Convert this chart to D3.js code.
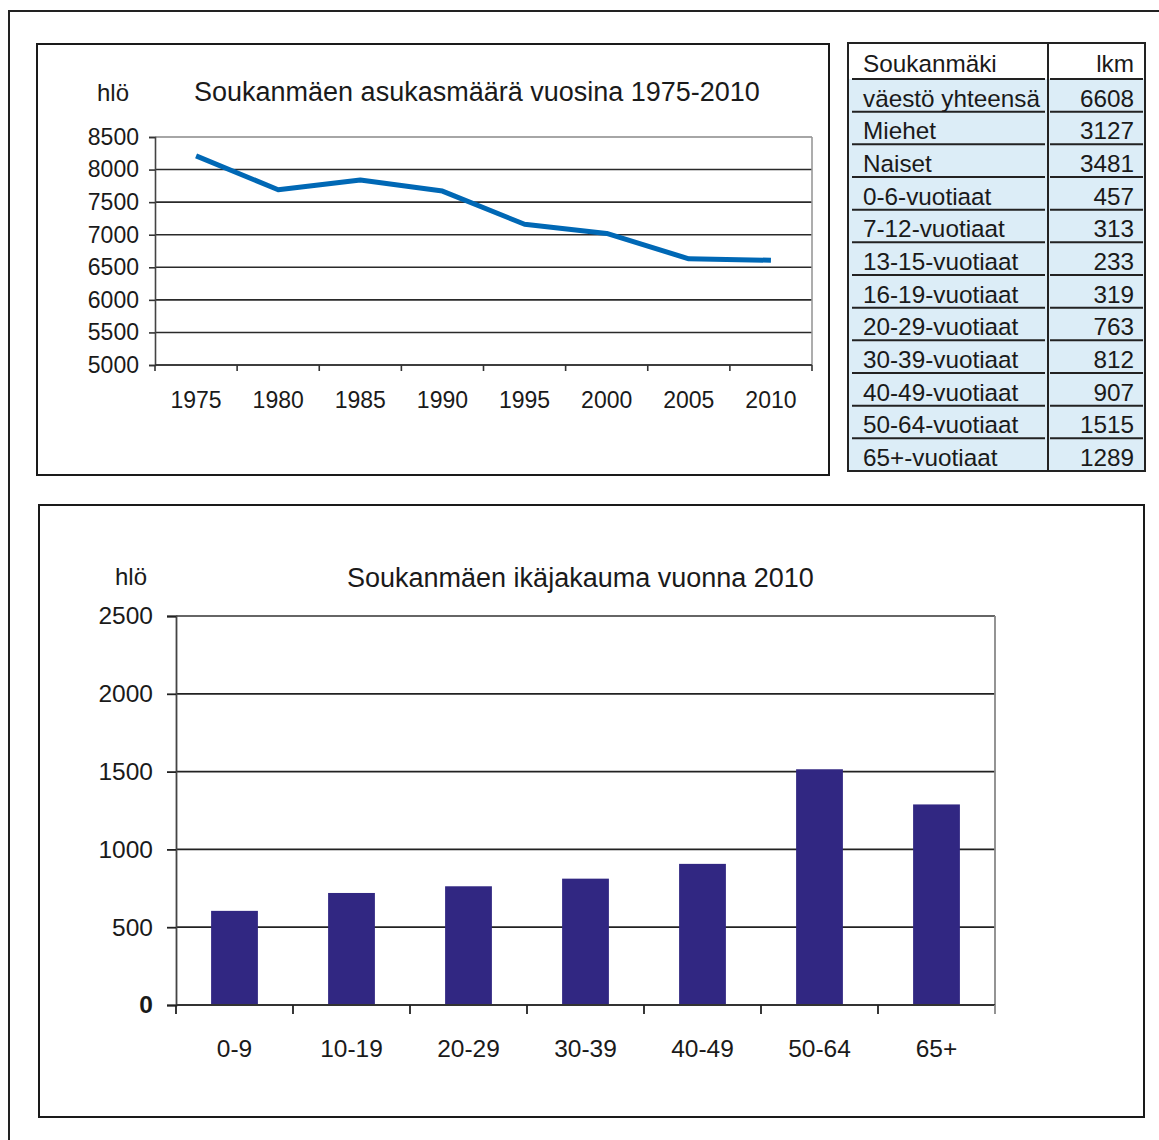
<!DOCTYPE html>
<html><head><meta charset="utf-8">
<script src="https://cdn.jsdelivr.net/npm/d3@7"></script>
<style>
html,body{margin:0;padding:0;background:#fff;}
text{font-family:"Liberation Sans",Arial,Helvetica,sans-serif;fill:#1a1a1a;}
</style></head>
<body>
<svg id="c" width="1159" height="1140"></svg>
<script>
// ---- data ----
const years = ["1975","1980","1985","1990","1995","2000","2005","2010"];
const population = [8210, 7690, 7840, 7670, 7160, 7020, 6630, 6608];
const lineTicks = [5000,5500,6000,6500,7000,7500,8000,8500];

const tableHeader = ["Soukanmäki","lkm"];
const tableLabels = ["väestö yhteensä","Miehet","Naiset","0-6-vuotiaat","7-12-vuotiaat","13-15-vuotiaat","16-19-vuotiaat","20-29-vuotiaat","30-39-vuotiaat","40-49-vuotiaat","50-64-vuotiaat","65+-vuotiaat"];
const tableValues = [6608,3127,3481,457,313,233,319,763,812,907,1515,1289];

const ageGroups = ["0-9","10-19","20-29","30-39","40-49","50-64","65+"];
const ageCounts = [605, 720, 763, 812, 907, 1515, 1289];
const barTicks = [0,500,1000,1500,2000,2500];

const svg = d3.select("#c");

// outer frame
svg.append("rect").attr("x",9).attr("y",11).attr("width",1200).attr("height",1200)
  .attr("fill","none").attr("stroke","#222").attr("stroke-width",2);

// ================= Line chart =================
svg.append("rect").attr("x",37).attr("y",44).attr("width",792).attr("height",431)
  .attr("fill","#fff").attr("stroke","#1a1a1a").attr("stroke-width",2);

const L = {x0:155, x1:812, y0:137, y1:365};
const lx = d3.scaleBand().domain(years).range([L.x0,L.x1]);
const ly = d3.scaleLinear().domain([5000,8500]).range([L.y1,L.y0]);

const g1 = svg.append("g");
g1.selectAll("line.grid").data(lineTicks).join("line")
  .attr("x1",L.x0).attr("x2",L.x1).attr("y1",d=>ly(d)).attr("y2",d=>ly(d))
  .attr("stroke",d=>d===8500?"#888":"#2a2a2a").attr("stroke-width",1.6);
g1.append("line").attr("x1",L.x1).attr("x2",L.x1).attr("y1",L.y0).attr("y2",L.y1)
  .attr("stroke","#999").attr("stroke-width",1.6);
const yAx1 = g1.append("g").attr("transform",`translate(${L.x0},0)`)
  .call(d3.axisLeft(ly).tickValues(lineTicks).tickSize(6).tickPadding(10).tickFormat(d3.format("d")));
yAx1.select(".domain").attr("stroke","#444").attr("stroke-width",1.6);
yAx1.selectAll(".tick line").attr("stroke","#333").attr("stroke-width",1.6);
yAx1.selectAll("text").style("font-size","23px").attr("fill","#1a1a1a");
const xAx1 = g1.append("g").attr("transform",`translate(0,${L.y1})`)
  .call(d3.axisBottom(lx).tickSize(0).tickPadding(27));
xAx1.select(".domain").remove();
xAx1.selectAll("text").style("font-size","23px").attr("fill","#1a1a1a");
g1.append("line").attr("x1",L.x0).attr("x2",L.x1).attr("y1",L.y1).attr("y2",L.y1)
  .attr("stroke","#333").attr("stroke-width",1.6);
const bounds1 = years.map(d=>lx(d)).concat([L.x1]);
g1.selectAll("line.xt").data(bounds1).join("line")
  .attr("x1",d=>d).attr("x2",d=>d).attr("y1",L.y1).attr("y2",L.y1+6)
  .attr("stroke","#333").attr("stroke-width",1.6);
g1.append("path").datum(population)
  .attr("d", d3.line().x((d,i)=>lx(years[i])+lx.bandwidth()/2).y(d=>ly(d)))
  .attr("fill","none").attr("stroke","#0068b5").attr("stroke-width",5).attr("stroke-linejoin","round");
svg.append("text").attr("x",97).attr("y",101).style("font-size","24px").text("hlö");
svg.append("text").attr("x",194).attr("y",101).style("font-size","27px").text("Soukanmäen asukasmäärä vuosina 1975-2010");

// ================= Table =================
const T = {x0:848, x1:1145, y0:43, y1:471, colX:1048, headH:36};
const rowH = (T.y1 - T.y0 - T.headH)/tableLabels.length;
const gt = svg.append("g");
gt.append("rect").attr("x",T.x0).attr("y",T.y0).attr("width",T.x1-T.x0).attr("height",T.y1-T.y0)
  .attr("fill","#fff");
gt.append("rect").attr("x",T.x0).attr("y",T.y0+T.headH).attr("width",T.x1-T.x0).attr("height",T.y1-T.y0-T.headH)
  .attr("fill","#dcedf7");
gt.append("text").attr("x",863).attr("y",T.y0+T.headH-7).style("font-size","24.3px").text(tableHeader[0]);
gt.append("text").attr("x",1134).attr("y",T.y0+T.headH-7).attr("text-anchor","end").style("font-size","24.3px").text(tableHeader[1]);
const lineYs = d3.range(tableLabels.length).map(i=>T.y0+T.headH+i*rowH);
gt.selectAll("line.rl").data(lineYs).join("line")
  .attr("x1",852).attr("x2",1045).attr("y1",d=>d).attr("y2",d=>d).attr("stroke","#222").attr("stroke-width",2);
gt.selectAll("line.rr").data(lineYs).join("line")
  .attr("x1",1050).attr("x2",1143).attr("y1",d=>d).attr("y2",d=>d).attr("stroke","#222").attr("stroke-width",2);
gt.selectAll("text.lab").data(tableLabels).join("text")
  .attr("x",863).attr("y",(d,i)=>T.y0+T.headH+(i+1)*rowH-5).style("font-size","24.3px").text(d=>d);
gt.selectAll("text.val").data(tableValues).join("text")
  .attr("x",1134).attr("y",(d,i)=>T.y0+T.headH+(i+1)*rowH-5).attr("text-anchor","end")
  .style("font-size","24.3px").text(d=>d);
gt.append("line").attr("x1",T.colX).attr("x2",T.colX).attr("y1",T.y0).attr("y2",T.y1).attr("stroke","#222").attr("stroke-width",2);
gt.append("rect").attr("x",T.x0).attr("y",T.y0).attr("width",T.x1-T.x0).attr("height",T.y1-T.y0)
  .attr("fill","none").attr("stroke","#222").attr("stroke-width",2);

// ================= Bar chart =================
svg.append("rect").attr("x",39).attr("y",505).attr("width",1105).attr("height",612)
  .attr("fill","#fff").attr("stroke","#1a1a1a").attr("stroke-width",2);

const B = {x0:176, x1:995, y0:616, y1:1005};
const bx = d3.scaleBand().domain(ageGroups).range([B.x0,B.x1]);
const by = d3.scaleLinear().domain([0,2500]).range([B.y1,B.y0]);
const g2 = svg.append("g");
g2.selectAll("line.grid").data(barTicks.filter(d=>d>0)).join("line")
  .attr("x1",B.x0).attr("x2",B.x1).attr("y1",d=>by(d)).attr("y2",d=>by(d))
  .attr("stroke",d=>d===2500?"#666":"#222").attr("stroke-width",1.8);
g2.append("line").attr("x1",B.x1).attr("x2",B.x1).attr("y1",B.y0).attr("y2",B.y1)
  .attr("stroke","#888").attr("stroke-width",1.8);
const bw = bx.bandwidth()*0.4;
g2.selectAll("rect.bar").data(ageCounts).join("rect")
  .attr("x",(d,i)=>bx(ageGroups[i])+bx.bandwidth()/2-bw/2)
  .attr("y",d=>by(d)).attr("width",bw).attr("height",d=>B.y1-by(d))
  .attr("fill","#312782");
const yAx2 = g2.append("g").attr("transform",`translate(${B.x0},0)`)
  .call(d3.axisLeft(by).tickValues(barTicks).tickSize(9).tickPadding(14).tickFormat(d3.format("d")));
yAx2.select(".domain").attr("stroke","#444").attr("stroke-width",1.8);
yAx2.selectAll(".tick line").attr("stroke","#222").attr("stroke-width",1.8);
yAx2.selectAll("text").style("font-size","24.5px").attr("fill","#1a1a1a")
  .style("font-weight",d=>d===0?"bold":"normal");
const xAx2 = g2.append("g").attr("transform",`translate(0,${B.y1})`)
  .call(d3.axisBottom(bx).tickSize(0).tickPadding(35));
xAx2.select(".domain").remove();
xAx2.selectAll("text").style("font-size","24.5px").attr("fill","#1a1a1a");
g2.append("line").attr("x1",B.x0).attr("x2",B.x1).attr("y1",B.y1).attr("y2",B.y1)
  .attr("stroke","#333").attr("stroke-width",1.8);
const bounds2 = ageGroups.map(d=>bx(d)).concat([B.x1]);
g2.selectAll("line.xt").data(bounds2).join("line")
  .attr("x1",d=>d).attr("x2",d=>d).attr("y1",B.y1).attr("y2",B.y1+9)
  .attr("stroke",(d,i)=>i===bounds2.length-1?"#888":"#222").attr("stroke-width",1.8);
svg.append("text").attr("x",115).attr("y",585).style("font-size","24px").text("hlö");
svg.append("text").attr("x",347).attr("y",587).style("font-size","27px").text("Soukanmäen ikäjakauma vuonna 2010");
</script>
</body></html>
